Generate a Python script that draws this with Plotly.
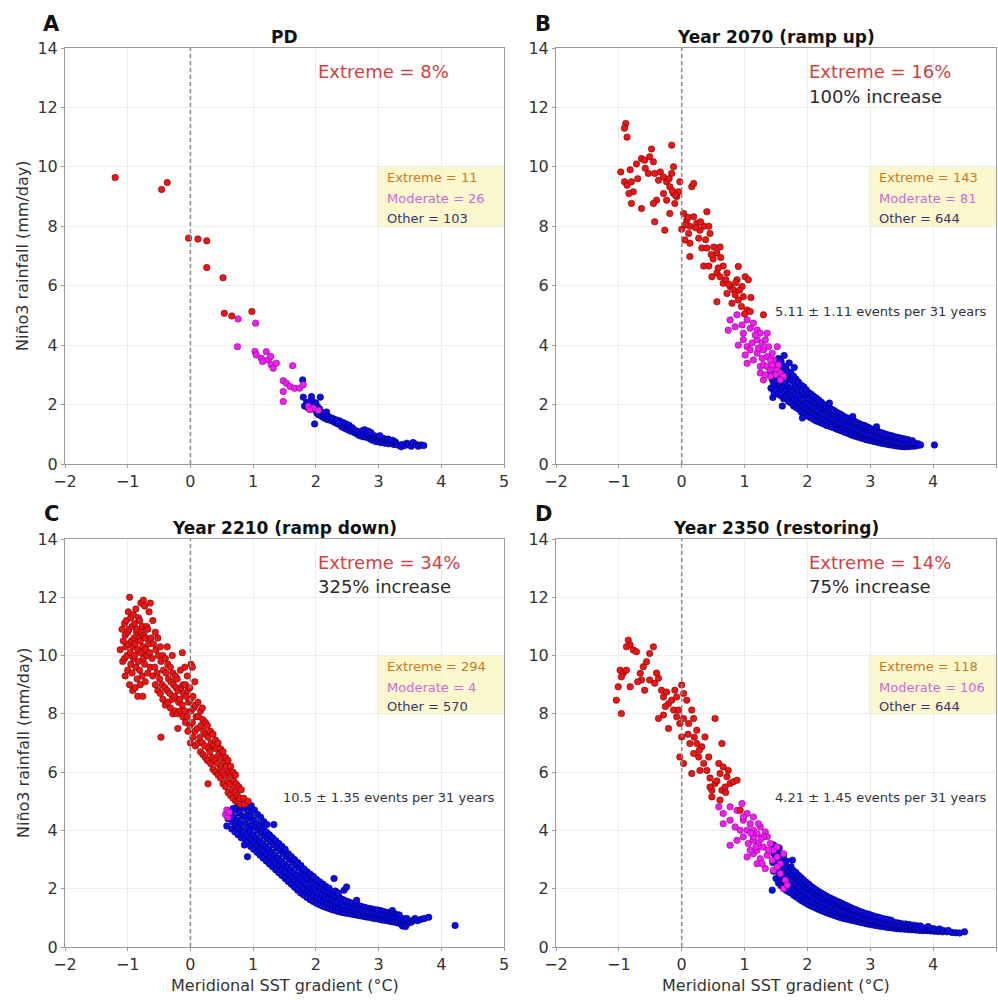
import plotly.graph_objects as go

# ---------------- DATA ----------------
TITLES = ["PD", "Year 2070 (ramp up)", "Year 2210 (ramp down)", "Year 2350 (restoring)"]
LETTERS = ["A", "B", "C", "D"]
EXTREME_PCT = ["Extreme = 8%", "Extreme = 16%", "Extreme = 34%", "Extreme = 14%"]
INCREASE = ["", "100% increase", "325% increase", "75% increase"]
N_EXTREME = [11, 143, 294, 118]
N_MODERATE = [26, 81, 4, 106]
N_OTHER = [103, 644, 570, 644]
EVENTS = ["", "5.11 \u00b1 1.11 events per 31 years",
          "10.5 \u00b1 1.35 events per 31 years",
          "4.21 \u00b1 1.45 events per 31 years"]
X_TICKS = [-2, -1, 0, 1, 2, 3, 4, 5]
Y_TICKS = [0, 2, 4, 6, 8, 10, 12, 14]

# Panel A (PD)
A_EXT = [(-1.20, 9.64), (-0.46, 9.24), (-0.37, 9.47), (-0.03, 7.60), (0.12, 7.57), (0.26, 7.51),
         (0.26, 6.61), (0.52, 6.27), (0.54, 5.07), (0.66, 4.98), (0.98, 5.13)]
A_MOD = [(0.76, 4.88), (0.75, 3.95), (1.04, 4.74), (1.03, 3.79), (1.05, 3.67), (1.13, 3.56), (1.21, 3.78),
         (1.24, 3.50), (1.29, 3.34), (1.32, 3.22), (1.37, 3.39), (1.63, 3.31), (1.48, 2.80), (1.48, 2.44),
         (1.48, 2.10), (1.53, 2.72), (1.59, 2.61), (1.66, 2.55), (1.74, 2.55), (1.80, 2.67), (1.88, 1.94),
         (1.96, 1.88), (2.04, 1.80), (1.90, 1.83), (1.15, 3.45), (1.28, 3.62)]
A_OTH = [(1.79, 2.83), (1.80, 2.25), (1.93, 2.27), (2.07, 2.25), (1.98, 1.35),
         (1.82, 1.95), (1.85, 2.05), (1.87, 1.90), (1.90, 2.00), (1.92, 1.85), (1.95, 2.10), (1.97, 1.95),
         (2.00, 2.05), (2.00, 1.80), (2.02, 1.70), (2.03, 1.92), (2.05, 1.65), (2.06, 1.85), (2.08, 1.75),
         (2.10, 1.60), (2.12, 1.70), (2.13, 1.55), (2.15, 1.65), (2.17, 1.75), (2.18, 1.50), (2.20, 1.60),
         (2.22, 1.48), (2.24, 1.55), (2.26, 1.45), (2.38, 1.45), (2.40, 1.35), (2.41, 1.25), (2.43, 1.40),
         (2.45, 1.30), (2.46, 1.20), (2.48, 1.35), (2.50, 1.25), (2.51, 1.15), (2.53, 1.30), (2.55, 1.20),
         (2.56, 1.10), (2.58, 1.22), (2.60, 1.15), (2.62, 1.05), (2.64, 1.12), (2.66, 1.00), (2.68, 1.08),
         (2.70, 0.95), (2.72, 1.05), (2.74, 1.12), (2.75, 0.92), (2.77, 1.00), (2.78, 1.15), (2.80, 0.90),
         (2.81, 1.02), (2.83, 0.95), (2.84, 1.10), (2.86, 0.85), (2.87, 0.98), (2.89, 0.90), (2.90, 0.80),
         (2.92, 0.88), (2.93, 0.95), (2.95, 0.82), (2.96, 0.75), (2.98, 0.85), (3.00, 0.78), (3.01, 0.90),
         (3.03, 0.72), (3.05, 0.82), (3.06, 0.76), (3.08, 0.86), (3.10, 0.70), (3.11, 0.80), (3.13, 0.74),
         (3.15, 0.84), (3.16, 0.68), (3.18, 0.78), (3.20, 0.72), (3.22, 0.80), (3.24, 0.66), (3.26, 0.75),
         (3.28, 0.70), (3.30, 0.64), (3.36, 0.58), (3.38, 0.66), (3.42, 0.62), (3.45, 0.70), (3.48, 0.66),
         (3.52, 0.60), (3.55, 0.72), (3.60, 0.66), (3.63, 0.60), (3.68, 0.64), (3.72, 0.62),
         (2.28, 1.52), (2.30, 1.40), (2.33, 1.48), (2.35, 1.35), (2.88, 1.05), (3.02, 0.95), (1.88, 2.08),
         (2.36, 1.38)]

# Panel B (Year 2070)
B_EXT = [(-0.89, 11.46), (-0.91, 11.30), (-0.87, 11.00), (-0.97, 9.83), (-0.91, 9.50), (-0.87, 9.38),
         (-0.80, 9.50), (-0.77, 9.16), (-0.84, 9.10), (-0.80, 8.77), (-0.64, 8.60), (-0.82, 9.90),
         (-0.72, 10.10), (-0.64, 10.28), (-0.59, 10.22), (-0.51, 10.34), (-0.45, 10.17), (-0.48, 10.60),
         (-0.53, 9.78), (-0.43, 9.78), (-0.34, 9.83), (-0.37, 9.55), (-0.29, 9.66), (-0.24, 9.50),
         (-0.16, 9.78), (-0.13, 10.00), (-0.16, 10.73), (-0.19, 9.33), (-0.13, 9.10), (-0.08, 9.00),
         (-0.03, 9.50), (-0.05, 9.16), (0.16, 9.33), (0.19, 9.44), (-0.40, 8.88), (-0.45, 8.77),
         (-0.43, 8.15), (-0.27, 7.87), (-0.19, 8.43), (-0.11, 8.77), (-0.29, 9.10), (-0.24, 8.88),
         (0.03, 8.43), (0.08, 8.20), (0.13, 8.00), (0.11, 7.76), (0.05, 7.54), (0.13, 6.98), (0.19, 8.32),
         (0.24, 8.10), (0.29, 7.87), (0.35, 8.00), (0.40, 8.49), (0.43, 8.00), (0.27, 7.60), (0.32, 7.27),
         (0.40, 7.27), (0.45, 7.76), (0.51, 7.30), (0.56, 7.10), (0.61, 7.30), (0.35, 6.66), (0.43, 6.66),
         (0.48, 6.30), (0.56, 6.43), (0.61, 6.30), (0.66, 6.08), (0.56, 5.46), (0.72, 5.74), (0.77, 5.97),
         (0.82, 5.86), (0.90, 6.65), (0.88, 6.20), (0.96, 5.97), (1.01, 6.30), (1.06, 6.20), (0.98, 5.63),
         (0.90, 5.52), (0.80, 5.41), (1.04, 5.18), (1.09, 5.13), (1.30, 5.02), (0.66, 6.66), (0.72, 6.43),
         (0.13, 7.43), (0.00, 7.90), (-0.10, 9.05), (-0.15, 9.20), (0.06, 8.05), (0.10, 8.30), (0.22, 7.95),
         (0.30, 8.15), (0.50, 6.90), (0.58, 6.60), (0.70, 6.20), (0.75, 6.05), (0.85, 5.70), (0.92, 5.85),
         (0.95, 5.30), (1.00, 5.05), (-0.20, 9.60), (-0.58, 9.95), (-0.70, 9.60), (0.62, 6.95),
         (0.47, 7.05), (0.38, 7.55), (0.86, 6.10), (1.10, 5.60)]
B_MOD = [(0.77, 4.85), (0.88, 5.02), (0.85, 4.62), (0.74, 4.50), (0.96, 4.68), (1.04, 4.85), (1.09, 4.57),
         (1.14, 4.74), (1.20, 4.51), (1.25, 4.40), (0.90, 4.00), (0.98, 4.18), (1.04, 3.95), (1.12, 4.07),
         (1.20, 4.18), (1.28, 4.07), (1.36, 4.40), (1.33, 4.18), (1.38, 3.95), (1.30, 3.84), (1.20, 3.73),
         (1.14, 3.50), (1.04, 3.39), (1.01, 3.67), (1.28, 3.56), (1.36, 3.62), (1.44, 3.73), (1.46, 3.50),
         (1.52, 3.95), (1.25, 3.28), (1.30, 3.34), (1.36, 3.28), (1.41, 3.17), (1.46, 3.22), (1.52, 3.17),
         (1.57, 3.06), (1.54, 3.34), (1.49, 3.00), (1.41, 2.95), (1.30, 2.83), (1.25, 3.06), (1.44, 3.34),
         (1.62, 2.95), (1.57, 2.83), (0.98, 4.40), (1.17, 4.34), (1.09, 3.84), (1.22, 3.90), (1.41, 3.50),
         (1.33, 3.00)]
B_OTH = [(1.42, 2.55), (1.44, 2.85), (1.41, 3.15),
         (1.45, 2.24), (1.47, 2.40), (1.46, 2.70), (1.48, 3.00), (1.45, 3.30),
         (1.50, 2.50), (1.52, 2.80), (1.49, 3.10), (1.51, 3.40),
         (1.54, 2.35), (1.55, 2.65), (1.53, 2.95), (1.56, 3.25), (1.54, 3.55),
         (1.58, 2.30), (1.59, 2.55), (1.57, 2.85), (1.60, 3.10), (1.58, 3.45),
         (1.62, 2.20), (1.63, 2.45), (1.61, 2.75), (1.64, 3.00), (1.62, 3.30), (1.63, 3.65),
         (1.66, 2.25), (1.67, 2.50), (1.65, 2.70), (1.68, 2.95), (1.66, 3.20),
         (1.70, 2.10), (1.71, 2.35), (1.69, 2.60), (1.72, 2.85), (1.70, 3.10), (1.71, 3.40),
         (1.74, 2.05), (1.75, 2.30), (1.73, 2.55), (1.76, 2.80), (1.74, 3.05),
         (1.78, 1.95), (1.79, 2.20), (1.77, 2.45), (1.80, 2.70), (1.78, 2.95), (1.79, 3.25),
         (1.82, 1.90), (1.83, 2.15), (1.81, 2.35), (1.84, 2.60), (1.82, 2.85),
         (1.86, 1.85), (1.87, 2.05), (1.85, 2.30), (1.88, 2.50), (1.86, 2.75),
         (1.90, 1.75), (1.91, 2.00), (1.89, 2.20), (1.92, 2.45), (1.90, 2.65),
         (1.94, 1.70), (1.95, 1.95), (1.93, 2.15), (1.96, 2.35), (1.94, 2.60),
         (1.98, 1.65), (1.99, 1.85), (1.97, 2.05), (2.00, 2.30), (1.98, 2.50),
         (2.02, 1.60), (2.03, 1.80), (2.01, 2.00), (2.04, 2.20), (2.02, 2.40),
         (2.06, 1.55), (2.07, 1.75), (2.05, 1.95), (2.08, 2.15), (2.06, 2.35),
         (2.10, 1.50), (2.11, 1.70), (2.09, 1.90), (2.12, 2.10), (2.10, 2.28),
         (2.14, 1.45), (2.15, 1.65), (2.13, 1.85), (2.16, 2.05), (2.14, 2.22),
         (2.18, 1.42), (2.19, 1.60), (2.17, 1.78), (2.20, 1.98), (2.18, 2.15),
         (2.22, 1.38), (2.23, 1.55), (2.21, 1.72), (2.24, 1.90), (2.22, 2.08),
         (2.26, 1.35), (2.27, 1.52), (2.25, 1.68), (2.28, 1.85), (2.26, 2.00),
         (2.30, 1.30), (2.31, 1.48), (2.29, 1.65), (2.32, 1.80), (2.30, 1.95),
         (2.34, 1.28), (2.35, 1.44), (2.33, 1.60), (2.36, 1.75), (2.34, 1.90),
         (2.38, 1.25), (2.39, 1.40), (2.37, 1.55), (2.40, 1.70), (2.38, 1.85),
         (2.42, 1.22), (2.43, 1.36), (2.41, 1.50), (2.44, 1.65), (2.42, 1.80),
         (2.46, 1.18), (2.47, 1.32), (2.45, 1.46), (2.48, 1.60), (2.46, 1.75),
         (2.50, 1.15), (2.51, 1.28), (2.49, 1.42), (2.52, 1.56), (2.50, 1.70),
         (2.54, 1.12), (2.55, 1.25), (2.53, 1.38), (2.56, 1.52), (2.54, 1.66),
         (2.58, 1.08), (2.59, 1.22), (2.57, 1.35), (2.60, 1.48), (2.58, 1.60),
         (2.62, 1.05), (2.63, 1.18), (2.61, 1.30), (2.64, 1.44), (2.62, 1.56),
         (2.66, 1.02), (2.67, 1.15), (2.65, 1.27), (2.68, 1.40), (2.66, 1.52),
         (2.70, 0.98), (2.71, 1.12), (2.69, 1.24), (2.72, 1.36), (2.70, 1.48),
         (2.74, 0.95), (2.75, 1.08), (2.73, 1.20), (2.76, 1.32), (2.74, 1.45),
         (2.78, 0.92), (2.79, 1.05), (2.77, 1.17), (2.80, 1.29), (2.78, 1.40),
         (2.82, 0.90), (2.83, 1.02), (2.81, 1.14), (2.84, 1.26), (2.82, 1.36),
         (2.86, 0.87), (2.87, 0.99), (2.85, 1.10), (2.88, 1.22), (2.86, 1.32),
         (2.90, 0.85), (2.91, 0.96), (2.89, 1.07), (2.92, 1.18), (2.90, 1.30),
         (2.94, 0.82), (2.95, 0.93), (2.93, 1.04), (2.96, 1.15), (2.94, 1.26),
         (2.98, 0.80), (2.99, 0.90), (2.97, 1.01), (3.00, 1.12), (2.98, 1.22),
         (3.02, 0.78), (3.03, 0.88), (3.01, 0.98), (3.04, 1.08), (3.02, 1.18),
         (3.06, 0.76), (3.07, 0.86), (3.05, 0.95), (3.08, 1.05), (3.06, 1.14),
         (3.10, 0.74), (3.11, 0.84), (3.09, 0.92), (3.12, 1.02), (3.10, 1.12),
         (3.14, 0.72), (3.15, 0.81), (3.13, 0.90), (3.16, 0.99), (3.14, 1.08),
         (3.18, 0.70), (3.19, 0.79), (3.17, 0.88), (3.20, 0.96), (3.18, 1.05),
         (3.22, 0.68), (3.23, 0.77), (3.21, 0.85), (3.24, 0.94), (3.22, 1.02),
         (3.26, 0.67), (3.27, 0.75), (3.25, 0.83), (3.28, 0.91), (3.26, 0.99),
         (3.30, 0.65), (3.31, 0.73), (3.29, 0.81), (3.32, 0.89), (3.30, 0.97),
         (3.34, 0.64), (3.35, 0.71), (3.33, 0.79), (3.36, 0.87), (3.34, 0.95),
         (3.38, 0.62), (3.39, 0.70), (3.37, 0.77), (3.40, 0.85), (3.38, 0.92),
         (3.42, 0.61), (3.43, 0.68), (3.41, 0.75), (3.44, 0.83), (3.42, 0.90),
         (3.46, 0.60), (3.47, 0.67), (3.45, 0.74), (3.48, 0.81), (3.46, 0.88),
         (3.50, 0.59), (3.51, 0.66), (3.49, 0.72), (3.52, 0.79), (3.50, 0.86),
         (3.55, 0.58), (3.56, 0.65), (3.54, 0.71), (3.57, 0.77), (3.55, 0.84),
         (3.60, 0.58), (3.61, 0.64), (3.59, 0.70), (3.62, 0.76), (3.60, 0.82),
         (3.65, 0.60), (3.66, 0.66), (3.64, 0.72), (3.67, 0.78),
         (3.70, 0.60), (3.71, 0.66), (3.69, 0.72), (3.75, 0.62), (3.76, 0.68), (3.80, 0.64),
         (4.02, 0.64), (1.60, 1.95), (1.92, 1.55), (2.35, 2.05), (2.72, 1.60), (3.10, 1.25)]

# Panel C (Year 2210)
C_EXT = [(-1.12, 10.2),
         (-1.08, 9.8), (-1.07, 10.5), (-1.09, 10.9),
         (-1.04, 9.3), (-1.05, 9.9), (-1.03, 10.3), (-1.04, 10.7), (-1.05, 11.1),
         (-1.00, 9.5), (-1.01, 10.0), (-0.99, 10.4), (-1.00, 10.8), (-1.02, 11.2), (-0.99, 11.5),
         (-0.97, 9.0), (-0.95, 9.7), (-0.96, 10.1), (-0.94, 10.5), (-0.98, 10.9), (-0.95, 11.3), (-0.97, 12.0),
         (-0.92, 8.8), (-0.93, 9.4), (-0.91, 9.9), (-0.92, 10.3), (-0.90, 10.6), (-0.93, 11.0), (-0.91, 11.4),
         (-0.88, 8.9), (-0.87, 9.6), (-0.89, 10.0), (-0.88, 10.4), (-0.86, 10.8), (-0.89, 11.1), (-0.87, 11.6),
         (-0.84, 8.6), (-0.85, 9.2), (-0.83, 9.8), (-0.84, 10.2), (-0.82, 10.6), (-0.85, 10.9), (-0.83, 11.3),
         (-0.80, 9.0), (-0.81, 9.5), (-0.79, 10.1), (-0.80, 10.5), (-0.78, 10.8), (-0.81, 11.2), (-0.79, 11.8),
         (-0.76, 8.6), (-0.77, 9.3), (-0.75, 9.9), (-0.76, 10.3), (-0.74, 10.7), (-0.77, 11.0), (-0.75, 11.9),
         (-0.72, 9.1), (-0.73, 9.7), (-0.71, 10.2), (-0.72, 10.6), (-0.70, 11.0), (-0.73, 11.7),
         (-0.68, 9.4), (-0.69, 10.0), (-0.67, 10.4), (-0.68, 10.9), (-0.66, 11.5),
         (-0.64, 9.6), (-0.65, 10.1), (-0.63, 10.6), (-0.64, 11.8),
         (-0.60, 9.3), (-0.61, 9.9), (-0.59, 10.4), (-0.60, 11.2),
         (-0.56, 9.0), (-0.57, 9.6), (-0.55, 10.2), (-0.56, 10.8),
         (-0.52, 8.8), (-0.53, 9.4), (-0.51, 10.0), (-0.52, 10.6),
         (-0.48, 8.7), (-0.49, 9.2), (-0.47, 9.8), (-0.48, 10.3), (-0.47, 7.2),
         (-0.44, 8.5), (-0.45, 9.0), (-0.43, 9.5), (-0.44, 10.0),
         (-0.40, 8.3), (-0.41, 8.9), (-0.39, 9.4), (-0.40, 9.9),
         (-0.36, 8.4), (-0.37, 8.8), (-0.35, 9.2), (-0.36, 9.7), (-0.37, 10.3),
         (-0.32, 8.2), (-0.33, 8.7), (-0.31, 9.1), (-0.32, 9.6),
         (-0.28, 8.0), (-0.29, 8.5), (-0.27, 9.0), (-0.28, 9.4), (-0.29, 10.0),
         (-0.24, 8.1), (-0.25, 8.6), (-0.23, 8.9), (-0.24, 9.3),
         (-0.20, 7.5), (-0.21, 8.0), (-0.19, 8.4), (-0.20, 8.8), (-0.21, 9.2),
         (-0.16, 8.1), (-0.17, 8.5), (-0.15, 8.9), (-0.16, 9.5),
         (-0.12, 7.9), (-0.13, 8.3), (-0.11, 8.7), (-0.12, 9.0), (-0.13, 10.1),
         (-0.08, 7.7), (-0.09, 8.1), (-0.07, 8.6), (-0.08, 9.0), (-0.09, 9.6),
         (-0.04, 7.4), (-0.05, 7.9), (-0.03, 8.4), (-0.04, 8.8), (-0.05, 9.3),
         (0.00, 7.0), (-0.01, 7.6), (0.01, 8.1), (0.00, 8.5), (-0.01, 8.9), (0.01, 9.7),
         (0.04, 7.2), (0.03, 7.7), (0.05, 8.2), (0.04, 8.6), (0.03, 9.6),
         (0.08, 6.9), (0.07, 7.4), (0.09, 7.9), (0.08, 8.3), (0.07, 9.1),
         (0.12, 7.0), (0.11, 7.5), (0.13, 7.9), (0.12, 8.4),
         (0.16, 6.7), (0.15, 7.2), (0.17, 7.6), (0.16, 8.1),
         (0.20, 6.6), (0.19, 7.0), (0.21, 7.4), (0.20, 7.8), (0.19, 8.2),
         (0.24, 6.5), (0.23, 6.9), (0.25, 7.3), (0.24, 7.7),
         (0.28, 5.6), (0.27, 6.4), (0.29, 6.8), (0.28, 7.2), (0.27, 7.6),
         (0.32, 6.3), (0.31, 6.7), (0.33, 7.0), (0.32, 7.4),
         (0.36, 6.1), (0.35, 6.5), (0.37, 6.9), (0.36, 7.3),
         (0.40, 6.0), (0.39, 6.4), (0.41, 6.8), (0.40, 7.1),
         (0.44, 5.9), (0.43, 6.3), (0.45, 6.6), (0.44, 7.0),
         (0.48, 5.8), (0.47, 6.1), (0.49, 6.5), (0.48, 6.8),
         (0.52, 5.6), (0.51, 6.0), (0.53, 6.3), (0.52, 6.7),
         (0.56, 5.5), (0.55, 5.9), (0.57, 6.2), (0.56, 6.5),
         (0.60, 5.3), (0.59, 5.7), (0.61, 6.0), (0.60, 6.4),
         (0.64, 5.2), (0.63, 5.6), (0.65, 5.9), (0.64, 6.2),
         (0.68, 5.1), (0.67, 5.4), (0.69, 5.7), (0.68, 6.0),
         (0.72, 5.0), (0.71, 5.3), (0.73, 5.6), (0.72, 5.9),
         (0.76, 5.0), (0.75, 5.2), (0.77, 5.5),
         (0.80, 4.9), (0.79, 5.1), (0.81, 5.4),
         (0.86, 4.9), (0.85, 5.1), (0.92, 5.0)]
C_MOD = [(0.56, 4.55), (0.58, 4.70), (0.60, 4.45), (0.62, 4.62)]
C_OTH = [(0.58, 4.15), (0.60, 4.40), (0.62, 4.60),
         (0.66, 4.05), (0.67, 4.30), (0.65, 4.55), (0.68, 4.75),
         (0.71, 3.95), (0.72, 4.20), (0.70, 4.45), (0.73, 4.70),
         (0.76, 3.85), (0.77, 4.10), (0.75, 4.35), (0.78, 4.60), (0.76, 4.85),
         (0.81, 3.75), (0.82, 4.00), (0.80, 4.25), (0.83, 4.50), (0.81, 4.80),
         (0.86, 3.50), (0.87, 3.70), (0.85, 3.95), (0.88, 4.20), (0.86, 4.45), (0.87, 4.75),
         (0.91, 3.10), (0.92, 3.60), (0.90, 3.85), (0.93, 4.10), (0.91, 4.40), (0.92, 4.65),
         (0.96, 3.45), (0.97, 3.70), (0.95, 3.95), (0.98, 4.20), (0.96, 4.50), (0.97, 4.85),
         (1.01, 3.35), (1.02, 3.60), (1.00, 3.85), (1.03, 4.10), (1.01, 4.35), (1.02, 4.70),
         (1.06, 3.25), (1.07, 3.50), (1.05, 3.75), (1.08, 4.00), (1.06, 4.25), (1.07, 4.55),
         (1.11, 3.15), (1.12, 3.40), (1.10, 3.65), (1.13, 3.90), (1.11, 4.15), (1.12, 4.45),
         (1.16, 3.05), (1.17, 3.30), (1.15, 3.55), (1.18, 3.80), (1.16, 4.05), (1.17, 4.30),
         (1.21, 2.95), (1.22, 3.20), (1.20, 3.45), (1.23, 3.70), (1.21, 3.95), (1.22, 4.20),
         (1.26, 2.85), (1.27, 3.10), (1.25, 3.35), (1.28, 3.60), (1.26, 3.85),
         (1.31, 2.75), (1.32, 3.00), (1.30, 3.25), (1.33, 3.50), (1.31, 3.75), (1.33, 4.20),
         (1.36, 2.65), (1.37, 2.90), (1.35, 3.15), (1.38, 3.40), (1.36, 3.65),
         (1.41, 2.55), (1.42, 2.80), (1.40, 3.05), (1.43, 3.30), (1.41, 3.55),
         (1.46, 2.45), (1.47, 2.70), (1.45, 2.95), (1.48, 3.20), (1.46, 3.45),
         (1.51, 2.35), (1.52, 2.60), (1.50, 2.85), (1.53, 3.10), (1.51, 3.35),
         (1.56, 2.25), (1.57, 2.50), (1.55, 2.75), (1.58, 3.00), (1.56, 3.20),
         (1.61, 2.15), (1.62, 2.40), (1.60, 2.65), (1.63, 2.90), (1.61, 3.10),
         (1.66, 2.05), (1.67, 2.30), (1.65, 2.55), (1.68, 2.80), (1.66, 3.00),
         (1.71, 1.95), (1.72, 2.20), (1.70, 2.45), (1.73, 2.70), (1.71, 2.90),
         (1.76, 1.85), (1.77, 2.10), (1.75, 2.35), (1.78, 2.55), (1.76, 2.80),
         (1.81, 1.78), (1.82, 2.00), (1.80, 2.25), (1.83, 2.45), (1.81, 2.68),
         (1.86, 1.70), (1.87, 1.92), (1.85, 2.15), (1.88, 2.35), (1.86, 2.58),
         (1.91, 1.62), (1.92, 1.85), (1.90, 2.05), (1.93, 2.28), (1.91, 2.50),
         (1.96, 1.56), (1.97, 1.78), (1.95, 1.98), (1.98, 2.20), (1.96, 2.42),
         (2.01, 1.50), (2.02, 1.70), (2.00, 1.90), (2.03, 2.10), (2.01, 2.32),
         (2.06, 1.45), (2.07, 1.64), (2.05, 1.84), (2.08, 2.04), (2.06, 2.24),
         (2.11, 1.40), (2.12, 1.58), (2.10, 1.78), (2.13, 1.96), (2.11, 2.16),
         (2.16, 1.36), (2.17, 1.54), (2.15, 1.72), (2.18, 1.90), (2.16, 2.08),
         (2.21, 1.32), (2.22, 1.50), (2.20, 1.66), (2.23, 1.84), (2.21, 2.02),
         (2.26, 1.28), (2.27, 1.45), (2.25, 1.62), (2.28, 1.78), (2.29, 2.35),
         (2.31, 1.25), (2.32, 1.41), (2.30, 1.57), (2.33, 1.73), (2.31, 1.92),
         (2.36, 1.22), (2.37, 1.37), (2.35, 1.52), (2.38, 1.68), (2.36, 1.85),
         (2.41, 1.19), (2.42, 1.34), (2.40, 1.48), (2.43, 1.63), (2.45, 1.95),
         (2.46, 1.17), (2.47, 1.30), (2.45, 1.44), (2.48, 1.58), (2.49, 2.06),
         (2.51, 1.15), (2.52, 1.27), (2.50, 1.40), (2.53, 1.54),
         (2.56, 1.13), (2.57, 1.25), (2.55, 1.37), (2.58, 1.50),
         (2.61, 1.11), (2.62, 1.22), (2.60, 1.34), (2.63, 1.46), (2.65, 1.60),
         (2.66, 1.09), (2.67, 1.20), (2.65, 1.31), (2.68, 1.42),
         (2.71, 1.07), (2.72, 1.18), (2.70, 1.28), (2.73, 1.39),
         (2.76, 1.05), (2.77, 1.16), (2.75, 1.26), (2.78, 1.36),
         (2.81, 1.03), (2.82, 1.14), (2.80, 1.24), (2.83, 1.33),
         (2.86, 1.01), (2.87, 1.12), (2.85, 1.22), (2.88, 1.31),
         (2.91, 0.99), (2.92, 1.10), (2.90, 1.20), (2.93, 1.29),
         (2.96, 0.97), (2.97, 1.08), (2.95, 1.18), (2.98, 1.27),
         (3.01, 0.95), (3.02, 1.06), (3.00, 1.16), (3.03, 1.25),
         (3.06, 0.93), (3.07, 1.04), (3.05, 1.13), (3.08, 1.22),
         (3.11, 0.91), (3.12, 1.02), (3.10, 1.11), (3.13, 1.19),
         (3.16, 0.89), (3.17, 1.00), (3.15, 1.09), (3.18, 1.17), (3.22, 1.25),
         (3.21, 0.87), (3.22, 0.98), (3.20, 1.07), (3.23, 1.14),
         (3.26, 0.85), (3.27, 0.95), (3.25, 1.04), (3.28, 1.12),
         (3.31, 0.82), (3.32, 0.93), (3.30, 1.02), (3.33, 1.10),
         (3.36, 0.80), (3.37, 0.90), (3.35, 0.99), (3.38, 0.72),
         (3.41, 0.78), (3.42, 0.88), (3.40, 0.97), (3.43, 0.70),
         (3.46, 0.80), (3.47, 0.90), (3.45, 0.98),
         (3.52, 0.85), (3.55, 0.92), (3.58, 0.98), (3.62, 0.90), (3.68, 0.95), (3.73, 0.98), (3.80, 1.02),
         (4.22, 0.74)]

# Panel D (Year 2350)
D_EXT = [(-0.85, 10.53), (-0.82, 10.36), (-0.77, 10.19), (-0.72, 10.13), (-0.88, 10.30), (-0.98, 9.50),
         (-0.93, 9.39), (-0.88, 9.50), (-1.01, 8.93), (-0.96, 9.27), (-0.82, 8.93), (-1.04, 8.47),
         (-0.96, 8.01), (-0.66, 9.39), (-0.61, 9.62), (-0.56, 9.79), (-0.51, 10.07), (-0.45, 10.30),
         (-0.64, 9.16), (-0.59, 8.81), (-0.51, 9.16), (-0.43, 9.05), (-0.37, 9.22), (-0.32, 8.81),
         (-0.29, 8.58), (-0.24, 8.75), (-0.21, 8.35), (-0.16, 8.47), (-0.11, 8.81), (-0.08, 8.58),
         (0.00, 8.99), (0.03, 8.70), (0.08, 8.47), (-0.37, 7.84), (-0.29, 7.96), (-0.21, 7.50),
         (-0.13, 8.13), (-0.08, 7.90), (-0.05, 8.13), (-0.03, 7.67), (0.00, 7.21), (0.03, 7.84),
         (0.11, 7.67), (0.16, 8.13), (0.19, 7.84), (0.24, 7.44), (-0.03, 6.52), (0.03, 6.30), (0.13, 6.98),
         (0.19, 6.64), (0.16, 5.95), (0.24, 6.98), (0.27, 6.52), (0.32, 6.87), (0.35, 6.30), (0.37, 7.21),
         (0.43, 6.52), (0.40, 6.06), (0.29, 6.06), (0.53, 7.84), (0.64, 6.98), (0.48, 5.38), (0.53, 5.61),
         (0.59, 6.30), (0.61, 5.95), (0.66, 6.18), (0.72, 5.84), (0.74, 6.06), (0.77, 5.61), (0.82, 5.67),
         (0.88, 5.72), (0.64, 5.38), (0.69, 5.49), (0.45, 5.49), (0.48, 5.15), (0.93, 4.69), (0.61, 5.04),
         (-0.70, 9.10), (-0.40, 9.40), (0.20, 7.20), (0.28, 6.75), (0.45, 5.80), (0.56, 5.70), (0.70, 5.30),
         (-0.26, 8.25), (0.10, 7.30)]
D_MOD = [(0.59, 4.81), (0.66, 4.58), (0.77, 4.81), (0.88, 4.69), (0.96, 4.92), (0.66, 4.23), (0.77, 4.35),
         (0.85, 4.12), (0.98, 4.35), (1.04, 4.58), (1.14, 4.46), (1.09, 4.23), (1.04, 4.01), (1.14, 4.01),
         (1.20, 3.89), (1.25, 4.12), (1.33, 3.95), (1.36, 3.78), (0.77, 3.49), (0.88, 3.66), (0.98, 3.78),
         (1.06, 3.55), (1.14, 3.66), (1.22, 3.55), (1.30, 3.43), (1.41, 3.55), (1.46, 3.32), (1.52, 3.43),
         (1.04, 3.09), (1.14, 3.20), (1.25, 3.03), (1.36, 3.15), (1.44, 2.98), (1.52, 3.09), (1.57, 2.86),
         (1.62, 3.20), (1.33, 2.69), (1.46, 2.63), (1.57, 2.52), (1.65, 2.29), (1.62, 2.00), (1.68, 2.12),
         (1.52, 2.75), (1.20, 2.86), (1.28, 2.86), (1.09, 3.32), (1.20, 3.32), (1.30, 3.78), (1.38, 3.32),
         (0.93, 4.01), (1.14, 3.78), (1.22, 4.23), (0.98, 4.46), (1.10, 3.90), (1.18, 3.45), (1.26, 3.70)]
D_OTH = [(1.44, 1.95), (1.46, 2.60), (1.45, 2.90), (1.47, 3.20), (1.46, 3.50),
         (1.50, 2.35), (1.51, 2.65), (1.49, 2.95), (1.52, 3.25),
         (1.54, 2.20), (1.55, 2.50), (1.53, 2.80), (1.56, 3.10), (1.55, 3.40),
         (1.58, 2.10), (1.59, 2.40), (1.57, 2.70), (1.60, 3.00),
         (1.62, 2.05), (1.63, 2.30), (1.61, 2.55), (1.64, 2.85), (1.62, 3.15),
         (1.66, 1.95), (1.67, 2.20), (1.65, 2.45), (1.68, 2.70), (1.66, 2.95),
         (1.70, 1.90), (1.71, 2.15), (1.69, 2.40), (1.72, 2.60), (1.76, 2.98),
         (1.74, 1.85), (1.75, 2.05), (1.73, 2.30), (1.76, 2.50), (1.74, 2.75),
         (1.78, 1.78), (1.79, 2.00), (1.77, 2.22), (1.80, 2.42), (1.78, 2.62),
         (1.82, 1.72), (1.83, 1.92), (1.81, 2.14), (1.84, 2.35), (1.82, 2.55),
         (1.86, 1.66), (1.87, 1.86), (1.85, 2.06), (1.88, 2.27), (1.86, 2.45),
         (1.90, 1.60), (1.91, 1.80), (1.89, 2.00), (1.92, 2.20), (1.90, 2.38),
         (1.94, 1.55), (1.95, 1.74), (1.93, 1.93), (1.96, 2.12), (1.94, 2.30),
         (1.98, 1.50), (1.99, 1.68), (1.97, 1.87), (2.00, 2.05), (1.98, 2.22),
         (2.02, 1.45), (2.03, 1.63), (2.01, 1.81), (2.04, 1.98), (2.02, 2.15),
         (2.06, 1.41), (2.07, 1.58), (2.05, 1.75), (2.08, 1.92), (2.06, 2.08),
         (2.10, 1.37), (2.11, 1.53), (2.09, 1.70), (2.12, 1.86), (2.10, 2.02),
         (2.14, 1.33), (2.15, 1.49), (2.13, 1.65), (2.16, 1.80), (2.14, 1.96),
         (2.18, 1.29), (2.19, 1.45), (2.17, 1.60), (2.20, 1.75), (2.18, 1.90),
         (2.22, 1.25), (2.23, 1.41), (2.21, 1.56), (2.24, 1.70), (2.22, 1.85),
         (2.26, 1.22), (2.27, 1.37), (2.25, 1.52), (2.28, 1.66), (2.26, 1.80),
         (2.30, 1.18), (2.31, 1.33), (2.29, 1.48), (2.32, 1.62), (2.30, 1.75),
         (2.34, 1.15), (2.35, 1.30), (2.33, 1.44), (2.36, 1.58), (2.34, 1.70),
         (2.38, 1.12), (2.39, 1.26), (2.37, 1.40), (2.40, 1.54), (2.38, 1.66),
         (2.42, 1.09), (2.43, 1.23), (2.41, 1.36), (2.44, 1.50), (2.42, 1.62),
         (2.46, 1.06), (2.47, 1.20), (2.45, 1.33), (2.48, 1.46), (2.46, 1.58),
         (2.50, 1.03), (2.51, 1.17), (2.49, 1.30), (2.52, 1.42), (2.50, 1.54),
         (2.54, 1.00), (2.55, 1.14), (2.53, 1.26), (2.56, 1.38), (2.54, 1.50),
         (2.58, 0.98), (2.59, 1.11), (2.57, 1.23), (2.60, 1.35), (2.58, 1.46),
         (2.62, 0.96), (2.63, 1.08), (2.61, 1.20), (2.64, 1.31), (2.62, 1.42),
         (2.66, 0.94), (2.67, 1.05), (2.65, 1.17), (2.68, 1.28), (2.66, 1.38),
         (2.70, 0.92), (2.71, 1.03), (2.69, 1.14), (2.72, 1.24), (2.70, 1.34),
         (2.74, 0.90), (2.75, 1.00), (2.73, 1.11), (2.76, 1.21), (2.74, 1.30),
         (2.78, 0.88), (2.79, 0.98), (2.77, 1.08), (2.80, 1.18), (2.78, 1.27),
         (2.82, 0.86), (2.83, 0.96), (2.81, 1.05), (2.84, 1.14), (2.82, 1.23),
         (2.86, 0.84), (2.87, 0.94), (2.85, 1.03), (2.88, 1.11), (2.86, 1.20),
         (2.90, 0.82), (2.91, 0.92), (2.89, 1.00), (2.92, 1.08), (2.90, 1.17),
         (2.94, 0.80), (2.95, 0.90), (2.93, 0.98), (2.96, 1.06), (2.94, 1.14),
         (2.98, 0.78), (2.99, 0.88), (2.97, 0.96), (3.00, 1.04), (2.98, 1.12),
         (3.03, 0.76), (3.04, 0.85), (3.02, 0.93), (3.05, 1.01), (3.03, 1.08),
         (3.08, 0.74), (3.09, 0.83), (3.07, 0.91), (3.10, 0.98), (3.08, 1.05),
         (3.13, 0.72), (3.14, 0.81), (3.12, 0.88), (3.15, 0.95), (3.13, 1.02),
         (3.18, 0.70), (3.19, 0.79), (3.17, 0.86), (3.20, 0.93), (3.18, 0.99),
         (3.23, 0.69), (3.24, 0.77), (3.22, 0.84), (3.25, 0.90), (3.23, 0.96),
         (3.28, 0.67), (3.29, 0.75), (3.27, 0.82), (3.30, 0.88), (3.28, 0.94),
         (3.33, 0.66), (3.34, 0.73), (3.32, 0.80), (3.35, 0.86), (3.33, 0.92),
         (3.38, 0.64), (3.39, 0.71), (3.37, 0.78), (3.40, 0.84),
         (3.43, 0.63), (3.44, 0.70), (3.42, 0.76), (3.45, 0.82),
         (3.48, 0.62), (3.49, 0.68), (3.47, 0.75), (3.50, 0.80),
         (3.54, 0.61), (3.55, 0.67), (3.53, 0.73), (3.56, 0.79),
         (3.60, 0.60), (3.61, 0.66), (3.59, 0.72), (3.62, 0.77),
         (3.66, 0.59), (3.67, 0.64), (3.65, 0.70), (3.68, 0.75),
         (3.72, 0.58), (3.73, 0.63), (3.71, 0.68), (3.74, 0.73),
         (3.78, 0.57), (3.79, 0.62), (3.77, 0.67), (3.80, 0.72),
         (3.84, 0.56), (3.85, 0.61), (3.83, 0.66),
         (3.90, 0.56), (3.91, 0.60), (3.89, 0.65), (3.92, 0.70),
         (3.96, 0.55), (3.97, 0.60), (3.95, 0.64),
         (4.02, 0.54), (4.03, 0.58), (4.01, 0.63),
         (4.08, 0.53), (4.09, 0.57), (4.10, 0.62),
         (4.15, 0.52), (4.16, 0.57), (4.22, 0.52), (4.24, 0.57),
         (4.30, 0.50), (4.36, 0.49), (4.42, 0.48), (4.50, 0.52)]

PANEL_DATA = [(A_OTH, A_MOD, A_EXT), (B_OTH, B_MOD, B_EXT), (C_OTH, C_MOD, C_EXT), (D_OTH, D_MOD, D_EXT)]

# ---------------- STYLE ----------------
W, H = 998, 1003
FONT = "DejaVu Sans"
X_DOMAINS = [[65 / W, 504 / W], [556 / W, 996 / W], [65 / W, 504 / W], [556 / W, 996 / W]]
Y_DOMAINS = [[1 - 464 / H, 1 - 48 / H], [1 - 464 / H, 1 - 48 / H],
             [1 - 947 / H, 1 - 539 / H], [1 - 947 / H, 1 - 539 / H]]
CAT_STYLE = [("rgb(12,12,235)", "rgba(0,0,90,0.85)"),     # other
             ("rgb(240,30,240)", "rgba(120,0,120,0.75)"),  # moderate
             ("rgb(236,22,22)", "rgba(95,0,0,0.75)")]      # extreme

fig = go.Figure()
annotations = []
shapes = []

for i in range(4):
    n = i + 1
    xa = "x" if n == 1 else f"x{n}"
    ya = "y" if n == 1 else f"y{n}"
    for pts, (fc, ec) in zip(PANEL_DATA[i], CAT_STYLE):
        fig.add_trace(go.Scatter(
            x=[p[0] for p in pts], y=[p[1] for p in pts], mode="markers",
            xaxis=xa, yaxis=ya, showlegend=False, hoverinfo="skip",
            marker=dict(size=6.5, color=fc, line=dict(color=ec, width=0.7))))

    axis_common = dict(showgrid=True, gridcolor="#ececec", gridwidth=1, zeroline=False,
                       showline=True, mirror=True, linecolor="#9a9a9a", linewidth=1,
                       ticks="outside", ticklen=3, tickcolor="#9a9a9a", automargin=False,
                       tickfont=dict(family=FONT, size=16, color="#333333"))
    fig.update_layout(**{
        ("xaxis" if n == 1 else f"xaxis{n}"): dict(
            domain=X_DOMAINS[i], range=[-2, 5], tickvals=X_TICKS, anchor=ya, **axis_common),
        ("yaxis" if n == 1 else f"yaxis{n}"): dict(
            domain=Y_DOMAINS[i], range=[0, 14], tickvals=Y_TICKS, anchor=xa, **axis_common),
    })

    # dashed vertical line at x = 0
    shapes.append(dict(type="line", xref=xa, yref=ya, x0=0, x1=0, y0=0, y1=14,
                       line=dict(color="#8a8a8a", width=1.5, dash="4px,3px"), layer="above"))
    # yellow count box
    shapes.append(dict(type="rect", xref=xa, yref=ya, x0=2.97, x1=5.0, y0=7.98, y1=10.0,
                       fillcolor="rgba(252,244,190,0.75)", line=dict(width=0), layer="below"))

    # counts
    for txt, yv, col in [(f"Extreme = {N_EXTREME[i]}", 9.63, "#c47a2c"),
                         (f"Moderate = {N_MODERATE[i]}", 8.92, "#c96ad8"),
                         (f"Other = {N_OTHER[i]}", 8.25, "#34346e")]:
        annotations.append(dict(xref=xa, yref=ya, x=3.11, y=yv, text=txt, showarrow=False,
                                xanchor="left", yanchor="middle",
                                font=dict(family=FONT, size=13, color=col)))
    # Extreme %
    annotations.append(dict(xref=xa, yref=ya, x=2.0, y=13.2, text=EXTREME_PCT[i], showarrow=False,
                            xanchor="left", yanchor="middle",
                            font=dict(family=FONT, size=18, color="#cf4242")))
    if INCREASE[i]:
        annotations.append(dict(xref=xa, yref=ya, x=2.0, y=12.36, text=INCREASE[i], showarrow=False,
                                xanchor="left", yanchor="middle",
                                font=dict(family=FONT, size=18, color="#2a2a2a")))
    if EVENTS[i]:
        annotations.append(dict(xref=xa, yref=ya, x=3.17, y=5.14, text=EVENTS[i], showarrow=False,
                                xanchor="center", yanchor="middle",
                                font=dict(family=FONT, size=13, color="#333333")))

    # title & letter
    xc = (X_DOMAINS[i][0] + X_DOMAINS[i][1]) / 2
    ty = 37 if i < 2 else 528
    ly = 24 if i < 2 else 514
    lx = 51 if i % 2 == 0 else 543
    annotations.append(dict(xref="paper", yref="paper", x=xc, y=1 - ty / H, text=f"<b>{TITLES[i]}</b>",
                            showarrow=False, xanchor="center", yanchor="middle",
                            font=dict(family=FONT, size=17, color="#111111")))
    annotations.append(dict(xref="paper", yref="paper", x=lx / W, y=1 - ly / H, text=f"<b>{LETTERS[i]}</b>",
                            showarrow=False, xanchor="center", yanchor="middle",
                            font=dict(family=FONT, size=21, color="#111111")))

# axis titles
for yc in [(48 + 464) / 2, (539 + 947) / 2]:
    annotations.append(dict(xref="paper", yref="paper", x=23 / W, y=1 - yc / H,
                            text="Niño3 rainfall (mm/day)", textangle=-90, showarrow=False,
                            xanchor="center", yanchor="middle",
                            font=dict(family=FONT, size=16, color="#333333")))
for i in [2, 3]:
    xc = (X_DOMAINS[i][0] + X_DOMAINS[i][1]) / 2
    annotations.append(dict(xref="paper", yref="paper", x=xc, y=1 - 985 / H,
                            text="Meridional SST gradient (°C)", showarrow=False,
                            xanchor="center", yanchor="middle",
                            font=dict(family=FONT, size=16, color="#333333")))

fig.update_layout(width=W, height=H, margin=dict(l=0, r=0, t=0, b=0),
                  paper_bgcolor="white", plot_bgcolor="white",
                  annotations=annotations, shapes=shapes, showlegend=False)

fig.write_html("out.html", config={"displayModeBar": False},
               post_script="document.body.style.margin='0px';document.body.style.overflow='hidden';")
